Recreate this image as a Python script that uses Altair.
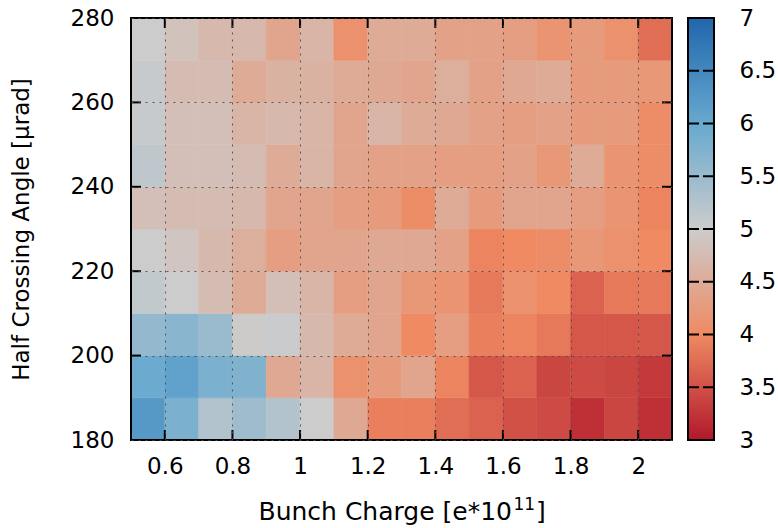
import altair as alt
import pandas as pd

# Bunch charge bins (left edges, e*10^11) and half crossing angle bins (lower edges, urad)
charge = [0.5, 0.6, 0.7, 0.8, 0.9, 1.0, 1.1, 1.2, 1.3, 1.4, 1.5, 1.6, 1.7, 1.8, 1.9, 2.0]
angle = [180, 190, 200, 210, 220, 230, 240, 250, 260, 270]

# Map values, one list per crossing-angle row
z_180 = [6.25, 5.8, 5.25, 5.45, 5.25, 5.0, 4.45, 3.9, 3.9, 3.75, 3.65, 3.5, 3.45, 3.2, 3.4, 3.2]
z_190 = [5.95, 6.1, 5.8, 5.75, 4.45, 4.65, 4.1, 4.25, 4.4, 3.95, 3.55, 3.65, 3.4, 3.45, 3.4, 3.3]
z_200 = [5.55, 5.65, 5.5, 4.98, 5.02, 4.7, 4.5, 4.4, 4.0, 4.3, 3.9, 3.95, 3.85, 3.55, 3.55, 3.55]
z_210 = [5.1, 5.0, 4.75, 4.5, 4.8, 4.65, 4.3, 4.4, 4.2, 4.15, 3.85, 4.1, 4.0, 3.65, 3.85, 3.85]
z_220 = [5.0, 4.9, 4.7, 4.55, 4.3, 4.4, 4.4, 4.45, 4.45, 4.35, 3.95, 4.0, 4.05, 4.2, 4.1, 4.0]
z_230 = [4.8, 4.75, 4.75, 4.7, 4.4, 4.4, 4.3, 4.25, 4.05, 4.5, 4.25, 4.4, 4.4, 4.3, 4.15, 3.95]
z_240 = [5.15, 4.8, 4.8, 4.75, 4.5, 4.65, 4.4, 4.35, 4.35, 4.3, 4.3, 4.35, 4.2, 4.5, 4.15, 4.05]
z_250 = [5.05, 4.8, 4.8, 4.65, 4.7, 4.65, 4.4, 4.65, 4.5, 4.45, 4.35, 4.3, 4.35, 4.25, 4.25, 4.05]
z_260 = [5.05, 4.75, 4.75, 4.5, 4.6, 4.6, 4.5, 4.45, 4.4, 4.55, 4.35, 4.45, 4.5, 4.25, 4.25, 4.2]
z_270 = [5.0, 4.85, 4.7, 4.7, 4.4, 4.65, 4.1, 4.5, 4.5, 4.35, 4.35, 4.3, 4.15, 4.25, 4.1, 3.75]
rows = [z_180, z_190, z_200, z_210, z_220, z_230, z_240, z_250, z_260, z_270]

x_ticks = [0.6, 0.8, 1, 1.2, 1.4, 1.6, 1.8, 2]
y_ticks = [180, 200, 220, 240, 260, 280]
cb_labels = [3, 3.5, 4, 4.5, 5, 5.5, 6, 6.5, 7]
cb_ticks = [3.5, 4, 4.5, 5, 5.5, 6, 6.5]

palette_domain = [3, 4, 5, 6, 7]
palette_colors = ["#b2182b", "#ef8a62", "#cccccc", "#67a9cf", "#2166ac"]

# x title pieces: text, superscript exponent, closing bracket
x_title_main = "Bunch Charge [e*10"
x_title_exp = "11"
x_title_end = "]"
y_title = "Half Crossing Angle [μrad]"

FONT = "DejaVu Sans"
FS = 23
TFS = 25
SFS = 17
W, H = 541, 422
CBW = 26
TICK = 10

records = []
for a, row in zip(angle, rows):
    for q, v in zip(charge, row):
        records.append({"q0": q, "q1": round(q + 0.1, 2), "a0": a, "a1": a + 10, "z": v})
cells = pd.DataFrame(records)

zscale = alt.Scale(domain=palette_domain, range=palette_colors, interpolate="rgb")
xscale = alt.Scale(domain=[0.5, 2.1], nice=False, zero=False)
yscale = alt.Scale(domain=[180, 280], nice=False, zero=False)

axis_common = dict(
    domain=False, ticks=False, tickSize=0, grid=True,
    gridColor="#4a4a4a", gridDash=[2, 5], gridWidth=1, gridOpacity=0.9,
    labelFont=FONT, labelFontSize=FS, labelColor="black",
    titleFont=FONT, titleFontSize=FS, titleColor="black", titleFontWeight="normal",
    labelExpr="'' + datum.value", zindex=1,
)

heat = alt.Chart(cells).mark_rect(strokeWidth=0.6).encode(
    x=alt.X("q0:Q", scale=xscale,
            axis=alt.Axis(values=x_ticks, title=None, labelPadding=15, **axis_common)),
    x2="q1:Q",
    y=alt.Y("a0:Q", scale=yscale,
            axis=alt.Axis(values=y_ticks, title=y_title,
                          labelPadding=17, titlePadding=37, **axis_common)),
    y2="a1:Q",
    color=alt.Color("z:Q", scale=zscale, legend=None),
    stroke=alt.Stroke("z:Q", scale=zscale, legend=None),
)

xt = pd.DataFrame({"q0": x_ticks})
yt = pd.DataFrame({"a0": y_ticks})

x_ticks_bottom = alt.Chart(xt).mark_rule(color="black", strokeWidth=2).encode(
    x=alt.X("q0:Q", scale=xscale), y=alt.value(H), y2=alt.value(H - TICK))
x_ticks_top = alt.Chart(xt).mark_rule(color="black", strokeWidth=2).encode(
    x=alt.X("q0:Q", scale=xscale), y=alt.value(0), y2=alt.value(TICK))
y_ticks_left = alt.Chart(yt).mark_rule(color="black", strokeWidth=2).encode(
    y=alt.Y("a0:Q", scale=yscale), x=alt.value(0), x2=alt.value(TICK))
y_ticks_right = alt.Chart(yt).mark_rule(color="black", strokeWidth=2).encode(
    y=alt.Y("a0:Q", scale=yscale), x=alt.value(W), x2=alt.value(W - TICK))

one = pd.DataFrame({"k": [0]})
frame = alt.Chart(one).mark_rect(
    filled=False, stroke="black", strokeWidth=2).encode(
    x=alt.value(0), x2=alt.value(W), y=alt.value(0), y2=alt.value(H))

# x-axis title with a raised exponent
TX0 = 127.5
TBASE = H + 80
w_main = 10.157 * TFS
w_exp = 2 * 0.636 * SFS
title_main = alt.Chart(one).mark_text(
    font=FONT, fontSize=TFS, color="black", align="left", baseline="alphabetic",
    text=x_title_main).encode(x=alt.value(TX0), y=alt.value(TBASE))
title_exp = alt.Chart(one).mark_text(
    font=FONT, fontSize=SFS, color="black", align="left", baseline="alphabetic",
    text=x_title_exp).encode(x=alt.value(TX0 + w_main + 1), y=alt.value(TBASE - 10))
title_end = alt.Chart(one).mark_text(
    font=FONT, fontSize=TFS, color="black", align="left", baseline="alphabetic",
    text=x_title_end).encode(x=alt.value(TX0 + w_main + w_exp + 2), y=alt.value(TBASE))

main = alt.layer(heat, x_ticks_bottom, x_ticks_top, y_ticks_left, y_ticks_right, frame,
                 title_main, title_exp, title_end).properties(width=W, height=H)

# Colour bar: gradient strip with its own value axis on the right
stops = [alt.GradientStop(offset=(d - 3) / 4, color=c) for d, c in zip(palette_domain, palette_colors)]
cb_scale = alt.Scale(domain=[3, 7], nice=False, zero=False)

cb_strip = alt.Chart(one).mark_rect(
    color=alt.LinearGradient(gradient="linear", stops=stops, x1=0, x2=0, y1=1, y2=0)).encode(
    x=alt.value(0), x2=alt.value(CBW), y=alt.value(0), y2=alt.value(H))

cb_axis = alt.Chart(pd.DataFrame({"v": cb_labels})).mark_rule(opacity=0).encode(
    y=alt.Y("v:Q", scale=cb_scale,
            axis=alt.Axis(orient="right", values=cb_labels, title=None, domain=False,
                          ticks=False, tickSize=0, grid=False, labelPadding=25,
                          labelFont=FONT, labelFontSize=FS, labelColor="black",
                          labelExpr="'' + datum.value")),
    x=alt.value(0), x2=alt.value(1))

cbt = pd.DataFrame({"v": cb_ticks})
cb_ticks_left = alt.Chart(cbt).mark_rule(color="black", strokeWidth=2).encode(
    y=alt.Y("v:Q", scale=cb_scale), x=alt.value(0), x2=alt.value(11))
cb_ticks_right = alt.Chart(cbt).mark_rule(color="black", strokeWidth=2).encode(
    y=alt.Y("v:Q", scale=cb_scale), x=alt.value(CBW - 11), x2=alt.value(CBW))
cb_frame = alt.Chart(one).mark_rect(
    filled=False, stroke="black", strokeWidth=2).encode(
    x=alt.value(0), x2=alt.value(CBW), y=alt.value(0), y2=alt.value(H))

cbar = alt.layer(cb_strip, cb_axis, cb_ticks_left, cb_ticks_right, cb_frame).properties(
    width=CBW, height=H)

chart = alt.hconcat(main, cbar, spacing=14).properties(
    padding={"left": 10, "top": 7, "right": 0, "bottom": 0},
    background="white",
).configure_view(stroke=None)

chart.save("out.html", embed_options={"renderer": "svg", "actions": False})
